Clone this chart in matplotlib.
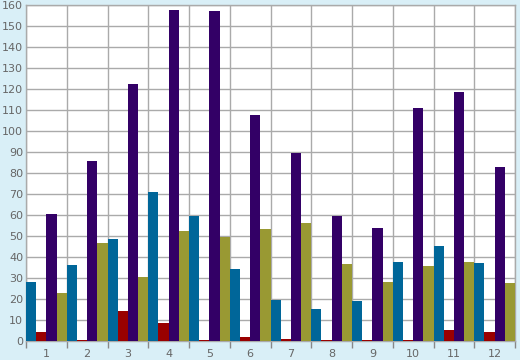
import numpy as np
import matplotlib.pyplot as plt

categories = ['1', '2', '3', '4', '5', '6', '7', '8', '9', '10', '11', '12']
teal = [28, 36.2, 48.6, 71, 59.5, 34.3, 19.5, 15.2, 19, 37.6, 45.2, 37.1]
red = [4.2, 0.4, 14.2, 8.5, 0.4, 1.9, 1, 0.4, 0.4, 0.4, 5.2, 4.3]
purple = [60.5, 85.8, 122.6, 157.5, 157, 107.6, 89.5, 59.5, 53.8, 111, 118.6, 82.9]
olive = [22.8, 46.7, 30.4, 52.4, 49.5, 53.3, 56.2, 36.7, 28.1, 35.7, 37.6, 27.6]

series = [teal, red, purple, olive]
colors = ['#006699', '#990000', '#330066', '#999933']

fig = plt.figure(figsize=(5.2, 3.6), dpi=100)
fig.patch.set_facecolor('#d9eff7')
ax = fig.add_axes([26 / 520, 19 / 360, 489 / 520, 336 / 360])
ax.set_facecolor('white')

x = np.arange(len(categories))
w = 0.25
for i, (vals, c) in enumerate(zip(series, colors)):
    ax.bar(x - 0.5 + w * (i + 0.5), vals, width=w, color=c, zorder=3, linewidth=0)

ax.set_xlim(-0.5, len(categories) - 0.5)
ax.set_ylim(0, 160)
ax.set_yticks(np.arange(0, 161, 10))
ax.set_xticks(x)
ax.set_xticklabels(categories)
ax.set_xticks(np.arange(-0.5, len(categories)), minor=True)
ax.tick_params(axis='x', which='major', length=0, labelsize=8, labelcolor='#666666', pad=6)
ax.tick_params(axis='x', which='minor', length=5, color='#888888', width=1)
ax.tick_params(axis='y', length=0, labelsize=8, labelcolor='#666666', pad=2)
ax.grid(True, axis='y', color='#aaaaaa', linewidth=1, zorder=0)
ax.grid(True, axis='x', which='minor', color='#aaaaaa', linewidth=1, zorder=0)
for s in ax.spines.values():
    s.set_color('#aaaaaa')
    s.set_linewidth(1)

fig.savefig('out.png', dpi=100, facecolor=fig.get_facecolor())
